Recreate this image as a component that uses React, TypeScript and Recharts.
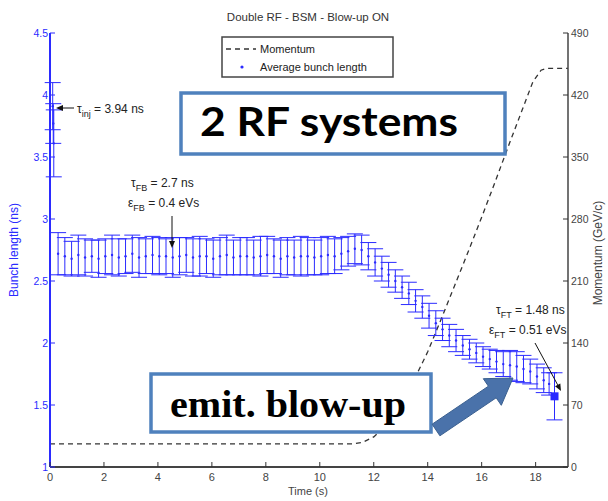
import { ComposedChart, Line, Scatter, ErrorBar, XAxis, YAxis } from 'recharts'

// bunch length measurements (ns) with error half-widths
const times = [
  0.1, 0.12, 0.14,
  0.3, 0.55, 0.8, 1.05, 1.3, 1.55, 1.8, 2.05, 2.3, 2.55, 2.8, 3.05, 3.3, 3.55, 3.8, 4.05, 4.3, 4.55, 4.8, 5.05, 5.3, 5.55,
  5.8, 6.05, 6.3, 6.55, 6.8, 7.05, 7.3, 7.55, 7.8, 8.05, 8.3, 8.55, 8.8, 9.05, 9.3, 9.55, 9.8, 10.05, 10.3, 10.55, 10.8, 11.05,
  11.3, 11.55, 11.8, 12.05, 12.3, 12.55, 12.8, 13.05, 13.3, 13.55, 13.8, 14.05, 14.3, 14.55, 14.8, 15.05, 15.3, 15.55,
  15.8, 16.05, 16.3, 16.55, 16.8, 17.05, 17.3, 17.55, 17.8, 18.05, 18.3, 18.5, 18.7,
]
const bunchLength = [
  3.91, 3.77, 3.61,
  2.72, 2.7, 2.68, 2.71, 2.69, 2.7, 2.68, 2.7, 2.71, 2.69, 2.7, 2.72, 2.69, 2.7, 2.71, 2.7, 2.7, 2.69, 2.7, 2.71, 2.69, 2.7,
  2.7, 2.68, 2.7, 2.71, 2.69, 2.7, 2.7, 2.69, 2.7, 2.71, 2.7, 2.68, 2.7, 2.69, 2.7, 2.7, 2.69, 2.7, 2.71, 2.7, 2.72, 2.74,
  2.76, 2.75, 2.7, 2.65, 2.6, 2.55, 2.5, 2.45, 2.4, 2.34, 2.29, 2.22, 2.16, 2.11, 2.06, 2.02, 1.98, 1.95,
  1.92, 1.89, 1.87, 1.85, 1.83, 1.82, 1.81, 1.79, 1.77, 1.73, 1.7, 1.67, 1.57,
]
const bunchErr = [
  0.19, 0.16, 0.27,
  0.17, 0.15, 0.14, 0.16, 0.15, 0.13, 0.15, 0.14, 0.16, 0.15, 0.14, 0.15, 0.16, 0.14, 0.15, 0.15, 0.14, 0.16, 0.15, 0.14, 0.15, 0.16,
  0.14, 0.15, 0.15, 0.16, 0.14, 0.15, 0.15, 0.14, 0.16, 0.15, 0.14, 0.15, 0.15, 0.14, 0.16, 0.15, 0.14, 0.15, 0.15, 0.14, 0.13, 0.12,
  0.12, 0.12, 0.11, 0.11, 0.1, 0.1, 0.09, 0.09, 0.09, 0.09, 0.09, 0.1, 0.1, 0.09, 0.09, 0.09, 0.08, 0.08,
  0.08, 0.08, 0.08, 0.09, 0.1, 0.12, 0.12, 0.11, 0.1, 0.1, 0.1, 0.09, 0.19,
]

// momentum ramp (GeV/c)
const momentumTime = [0, 11.2, 11.6, 12.0, 12.4, 12.8, 13.2, 13.6, 14.0, 14.5, 15.0, 15.5, 16.0, 16.5, 17.0, 17.5, 17.9, 18.2, 18.4, 19.2]
const momentumValue = [26, 26, 28, 34, 45, 62, 83, 105, 130, 167, 205, 243, 282, 322, 363, 403, 435, 448, 450, 450]

const xTicks = [0, 2, 4, 6, 8, 10, 12, 14, 16, 18]
const leftTicks = [1, 1.5, 2, 2.5, 3, 3.5, 4, 4.5]
const rightTicks = [0, 70, 140, 210, 280, 350, 420, 490]

const BLUE = '#2b2bff'
const FONT = '"Liberation Sans", Arial, sans-serif'

const bunch = times.map((t, i) => ({ t, len: bunchLength[i], err: bunchErr[i] }))
const momentum = momentumTime.map((t, i) => ({ t, p: momentumValue[i] }))
const lastT = times[times.length - 1]

const BottomTick = (props: any) => {
  const { x, y, payload } = props
  return (
    <g>
      <line x1={x} y1={y} x2={x} y2={y - 5} stroke="#333" />
      <text x={x} y={y + 14} textAnchor="middle" fontSize={11} fill="#444" fontFamily={FONT}>
        {payload.value}
      </text>
    </g>
  )
}

const LeftTick = (props: any) => {
  const { x, y, payload } = props
  return (
    <g>
      <line x1={x} y1={y} x2={x + 5} y2={y} stroke={BLUE} />
      <text x={x - 2} y={y + 4} textAnchor="end" fontSize={10.5} fill={BLUE} fontFamily={FONT}>
        {payload.value}
      </text>
    </g>
  )
}

const RightTick = (props: any) => {
  const { x, y, payload } = props
  return (
    <g>
      <line x1={x} y1={y} x2={x - 5} y2={y} stroke="#333" />
      <text x={x + 3} y={y + 4} textAnchor="start" fontSize={10.5} fill="#444" fontFamily={FONT}>
        {payload.value}
      </text>
    </g>
  )
}

const Dot = (props: any) => {
  const { cx, cy, payload } = props
  if (payload && payload.t === lastT) {
    return <rect x={cx - 4} y={cy - 4} width={8} height={8} fill={BLUE} />
  }
  return <circle cx={cx} cy={cy} r={1.2} fill={BLUE} />
}

function Arrow({ x1, y1, x2, y2 }: { x1: number; y1: number; x2: number; y2: number }) {
  const dx = x2 - x1
  const dy = y2 - y1
  const len = Math.hypot(dx, dy)
  const ux = dx / len
  const uy = dy / len
  const bx = x2 - ux * 7
  const by = y2 - uy * 7
  return (
    <g>
      <line x1={x1} y1={y1} x2={bx} y2={by} stroke="#111" strokeWidth={1} />
      <polygon
        points={`${x2},${y2} ${bx - uy * 3},${by + ux * 3} ${bx + uy * 3},${by - ux * 3}`}
        fill="#111"
      />
    </g>
  )
}

export default function App() {
  return (
    <div style={{ position: 'absolute', left: 0, top: 0, width: 608, height: 501, background: '#fff' }}>
      <ComposedChart width={608} height={501} margin={{ top: 33, right: 0, bottom: 0, left: 0 }}>
        <XAxis
          xAxisId="top"
          orientation="top"
          type="number"
          dataKey="t"
          domain={[0, 19.2]}
          height={0}
          tick={false}
          tickLine={false}
          axisLine={{ stroke: '#777', strokeWidth: 2 }}
        />
        <XAxis
          xAxisId="x"
          type="number"
          dataKey="t"
          domain={[0, 19.2]}
          ticks={xTicks}
          height={34}
          tickSize={0}
          tickMargin={0}
          tickLine={false}
          tick={BottomTick}
          axisLine={{ stroke: '#444', strokeWidth: 2 }}
        />
        <YAxis
          yAxisId="bl"
          orientation="left"
          type="number"
          domain={[1, 4.5]}
          ticks={leftTicks}
          width={50}
          tickSize={0}
          tickMargin={0}
          tickLine={false}
          tick={LeftTick}
          axisLine={{ stroke: BLUE, strokeWidth: 2 }}
        />
        <YAxis
          yAxisId="p"
          orientation="right"
          type="number"
          domain={[0, 490]}
          ticks={rightTicks}
          width={40}
          tickSize={0}
          tickMargin={0}
          tickLine={false}
          tick={RightTick}
          axisLine={{ stroke: '#444', strokeWidth: 1.5 }}
        />
        <Line
          data={momentum}
          xAxisId="x"
          yAxisId="p"
          dataKey="p"
          type="linear"
          stroke="#333"
          strokeWidth={1.3}
          strokeDasharray="5 4"
          dot={false}
          isAnimationActive={false}
        />
        <Scatter
          data={bunch}
          xAxisId="x"
          yAxisId="bl"
          dataKey="len"
          fill={BLUE}
          shape={Dot}
          isAnimationActive={false}
        >
          <ErrorBar dataKey="err" direction="y" width={8} stroke={BLUE} strokeWidth={1} isAnimationActive={false} />
        </Scatter>
      </ComposedChart>

      <svg width={608} height={501} style={{ position: 'absolute', left: 0, top: 0, pointerEvents: 'none' }}>
        <text x={308} y={21} textAnchor="middle" fontSize={11.5} fill="#333" fontFamily={FONT}>
          Double RF - BSM - Blow-up ON
        </text>

        {/* legend */}
        <rect x={222} y={37} width={171} height={40} fill="#fff" stroke="#444" strokeWidth={1.5} />
        <line x1={226} y1={49} x2={256} y2={49} stroke="#333" strokeWidth={1.3} strokeDasharray="5 4" />
        <text x={260} y={53} fontSize={11} fill="#222" fontFamily={FONT}>Momentum</text>
        <circle cx={242} cy={67} r={1.6} fill={BLUE} />
        <text x={260} y={71} fontSize={11} fill="#222" fontFamily={FONT}>Average bunch length</text>

        {/* axis titles */}
        <text
          transform="translate(18,250) rotate(-90)"
          textAnchor="middle"
          fontSize={12}
          fill={BLUE}
          fontFamily={FONT}
        >
          Bunch length (ns)
        </text>
        <text
          transform="translate(602,253) rotate(-90)"
          textAnchor="middle"
          fontSize={12}
          fill="#444"
          fontFamily={FONT}
        >
          Momentum (GeV/c)
        </text>
        <text x={308} y={495} textAnchor="middle" fontSize={11} fill="#444" fontFamily={FONT}>
          Time (s)
        </text>

        {/* annotations */}
        <Arrow x1={74} y1={108} x2={56} y2={108} />
        <text x={77} y={113} fontSize={12} fill="#222" fontFamily={FONT}>
          τ<tspan dy={4} fontSize={9}>inj</tspan>
          <tspan dy={-4}> = 3.94 ns</tspan>
        </text>

        <text x={131} y={187} fontSize={12} fill="#222" fontFamily={FONT}>
          τ<tspan dy={4} fontSize={9}>FB</tspan>
          <tspan dy={-4}> = 2.7 ns</tspan>
        </text>
        <text x={128} y={207} fontSize={12} fill="#222" fontFamily={FONT}>
          ε<tspan dy={4} fontSize={9}>FB</tspan>
          <tspan dy={-4}> = 0.4 eVs</tspan>
        </text>
        <Arrow x1={172} y1={216} x2={172} y2={248} />

        <text x={496} y={314} fontSize={12} fill="#222" fontFamily={FONT}>
          τ<tspan dy={4} fontSize={9}>FT</tspan>
          <tspan dy={-4}> = 1.48 ns</tspan>
        </text>
        <text x={489} y={334} fontSize={12} fill="#222" fontFamily={FONT}>
          ε<tspan dy={4} fontSize={9}>FT</tspan>
          <tspan dy={-4}> = 0.51 eVs</tspan>
        </text>
        <Arrow x1={535} y1={343} x2={561} y2={391} />

        {/* call-out boxes */}
        <rect x={181} y={93} width={324} height={61} fill="#fff" stroke="#4f81bd" strokeWidth={3.5} />
        <text
          x={200}
          y={136}
          fontSize={40}
          fontWeight="bold"
          fill="#000"
          fontFamily="Lato, 'Open Sans', sans-serif"
          textLength={258}
          lengthAdjust="spacingAndGlyphs"
        >
          2 RF systems
        </text>

        <rect x={151} y={374} width={280} height={58} fill="#fff" stroke="#4f81bd" strokeWidth={3.5} />
        <text
          x={170}
          y={417}
          fontSize={38}
          fontWeight="bold"
          fill="#000"
          fontFamily="'Liberation Serif', 'DejaVu Serif', serif"
          textLength={236}
          lengthAdjust="spacingAndGlyphs"
        >
          emit. blow-up
        </text>

        <polygon
          points="439.9,435.8 496.2,397.8 501.3,405.3 513,378 483.3,378.7 488.4,386.2 432.1,424.2"
          fill="#4a72aa"
          stroke="#3a5f8f"
          strokeWidth={1}
        />
      </svg>
    </div>
  )
}
